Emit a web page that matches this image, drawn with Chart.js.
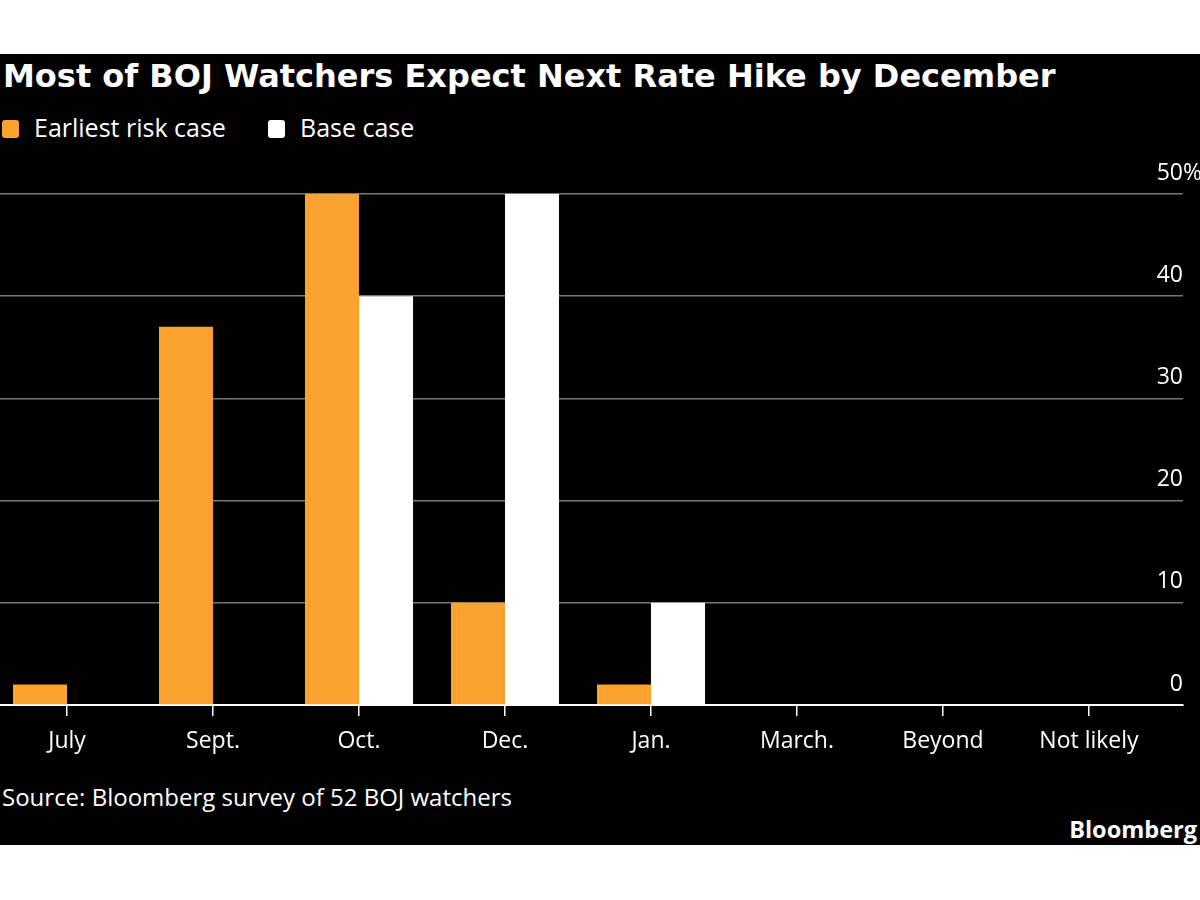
<!DOCTYPE html>
<html>
<head>
<meta charset="utf-8">
<script src="https://cdn.jsdelivr.net/npm/chart.js@4.4.1/dist/chart.umd.min.js"></script>
<style>
  body { margin: 0; background: #fff; width: 1200px; height: 900px; overflow: hidden; font-family: 'Open Sans', sans-serif; }
  #panel { position: absolute; left: 0; top: 54px; width: 1200px; height: 791px; background: #000; color: #fff; }
  #title { position: absolute; left: 3px; top: 2px; font-family: 'DejaVu Sans', sans-serif; font-size: 32px; font-weight: 700; line-height: 40px; white-space: nowrap; }
  .box { position: absolute; top: 66px; width: 17px; height: 18px; border-radius: 3px; }
  .lbl { position: absolute; top: 55px; font-size: 25px; line-height: 36px; white-space: nowrap; }
  #chart { position: absolute; left: 0; top: 96px; }
  #source { position: absolute; left: 2px; top: 728px; font-size: 24px; line-height: 30px; white-space: nowrap; }
  #brand { position: absolute; right: 3px; top: 760px; font-size: 23.5px; font-weight: 700; line-height: 30px; }
</style>
</head>
<body>
<div id="panel">
  <div id="title">Most of BOJ Watchers Expect Next Rate Hike by December</div>
  <span class="box" style="left:2px;background:#fba22f"></span>
  <span class="lbl" style="left:34px">Earliest risk case</span>
  <span class="box" style="left:268px;background:#fff"></span>
  <span class="lbl" style="left:300px">Base case</span>
  <canvas id="chart" width="1200" height="615"></canvas>
  <div id="source">Source: Bloomberg survey of 52 BOJ watchers</div>
  <div id="brand">Bloomberg</div>
</div>
<script>
const categories = ['July', 'Sept.', 'Oct.', 'Dec.', 'Jan.', 'March.', 'Beyond', 'Not likely'];
const earliestRisk = [2, 37, 50, 10, 2, 0, 0, 0];
const baseCase = [0, 0, 40, 50, 10, 0, 0, 0];
const yTicks = [0, 10, 20, 30, 40, 50];

const ORANGE = '#fba22f';

// draws the "%" after the top y label, hanging past the right edge like the original
const percentPlugin = {
    id: 'percent',
    afterDraw(chart) {
        const y = chart.scales.y;
        const c = chart.ctx;
        c.save();
        c.font = '23px "Open Sans", sans-serif';
        c.fillStyle = '#fff';
        c.textAlign = 'left';
        c.textBaseline = 'middle';
        c.fillText('%', chart.chartArea.right, y.getPixelForValue(50) - 21);
        c.restore();
    }
};

new Chart(document.getElementById('chart').getContext('2d'), {
    type: 'bar',
    data: {
        datasets: [
            {
                label: 'Earliest risk case',
                data: categories.map((c, i) => ({ x: i, y: earliestRisk[i] })),
                backgroundColor: ORANGE,
                borderWidth: 0,
            },
            {
                label: 'Base case',
                data: categories.map((c, i) => ({ x: i, y: baseCase[i] })),
                backgroundColor: '#ffffff',
                borderWidth: 0,
            },
        ],
    },
    options: {
        responsive: false,
        animation: false,
        layout: { padding: { top: 44, right: 17, left: 0, bottom: 0 } },
        datasets: { bar: { barPercentage: 1, categoryPercentage: 0.74 } },
        plugins: { legend: { display: false }, tooltip: { enabled: false } },
        scales: {
            x: {
                type: 'linear',
                offset: false,
                min: -0.459,
                max: 7.644,
                afterBuildTicks: (s) => { s.ticks = categories.map((c, i) => ({ value: i })); },
                afterFit: (s) => { s.height = 60; },
                ticks: {
                    color: '#fff',
                    font: { family: 'Open Sans', size: 23 },
                    padding: 12,
                    autoSkip: false,
                    maxRotation: 0,
                    callback: (v) => categories[v],
                },
                grid: { offset: false, drawOnChartArea: false, color: '#fff', tickLength: 11, lineWidth: 1.5 },
                border: { color: '#fff', width: 2 },
            },
            y: {
                position: 'right',
                min: 0,
                max: 50,
                afterBuildTicks: (s) => { s.ticks = yTicks.map((v) => ({ value: v })); },
                ticks: {
                    mirror: true,
                    padding: 0,
                    labelOffset: -21,
                    color: '#fff',
                    font: { family: 'Open Sans', size: 23 },
                },
                grid: {
                    drawTicks: false,
                    color: (ctx) => (ctx.tick && ctx.tick.value === 0 ? 'rgba(0,0,0,0)' : '#777'),
                    lineWidth: 1.5,
                },
                border: { display: false },
            },
        },
    },
    plugins: [percentPlugin],
});
</script>
</body>
</html>
